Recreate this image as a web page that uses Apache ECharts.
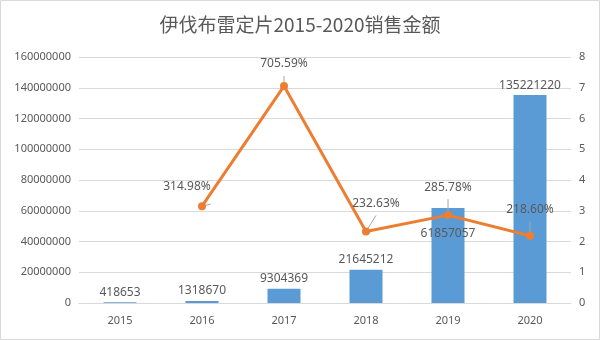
<!DOCTYPE html>
<html><head><meta charset="utf-8">
<script src="https://cdn.jsdelivr.net/npm/echarts@6/dist/echarts.min.js"></script>
<style>html,body{margin:0;padding:0;background:#fff}#c{width:600px;height:340px}</style>
</head><body><div id="c"></div>
<script>
var years = ['2015','2016','2017','2018','2019','2020'];
var sales = [418653, 1318670, 9304369, 21645212, 61857057, 135221220];
var growth = [null, 3.1498, 7.0559, 2.3263, 2.8578, 2.1860];
var growthLabels = ['', '314.98%', '705.59%', '232.63%', '285.78%', '218.60%'];
var leftTicks = [0, 160000000, 20000000];
var rightTicks = [0, 8, 1];

var txt = '#595959';
var font = 'Noto Sans, sans-serif';
var lblOffsets = [[0,0],[-15,0],[0,-2],[10,-8],[0,-8],[0,-6]];

var chart = echarts.init(document.getElementById('c'));
chart.setOption({
  animation: false,
  title: {text: '伊伐布雷定片2015-2020销售金额', left: 'center', top: 10,
    textStyle: {color: txt, fontSize: 19, fontWeight: 'normal', fontFamily: 'Noto Sans CJK SC'}},
  graphic: [{type: 'rect', shape: {x: 0.5, y: 0.5, width: 599, height: 339}, style: {fill: 'none', stroke: '#d9d9d9', lineWidth: 1}}],
  grid: {left: 79, right: 29, top: 57, bottom: 37},
  xAxis: {type: 'category', data: years,
    axisLine: {lineStyle: {color: '#d9d9d9'}}, axisTick: {show: false},
    axisLabel: {color: txt, fontSize: 11, fontFamily: font, margin: 12}},
  yAxis: [
    {type: 'value', min: leftTicks[0], max: leftTicks[1], interval: leftTicks[2],
     axisLine: {show: false}, axisTick: {show: false},
     splitLine: {lineStyle: {color: '#d9d9d9'}},
     axisLabel: {color: txt, fontSize: 11, fontFamily: font, margin: 8,
       formatter: function(v){ return String(v); }}},
    {type: 'value', min: rightTicks[0], max: rightTicks[1], interval: rightTicks[2],
     axisLine: {show: false}, axisTick: {show: false}, splitLine: {show: false},
     axisLabel: {color: txt, fontSize: 11, fontFamily: font, margin: 8}}
  ],
  series: [
    {type: 'bar', data: sales.map(function(v, i){
        var d = {value: v};
        if (i === 4) d.label = {position: 'insideTop', offset: [0, 16]};
        return d;
      }),
     barWidth: 33, itemStyle: {color: '#5B9BD5'},
     label: {show: true, position: 'top', color: txt, fontSize: 12, fontFamily: font, distance: 4}},
    {type: 'line', yAxisIndex: 1, data: growth.map(function(v, i){
        return {value: v, label: {offset: lblOffsets[i]}};
      }),
     connectNulls: false,
     lineStyle: {color: '#ED7D31', width: 3},
     itemStyle: {color: '#ED7D31'},
     symbol: 'circle', symbolSize: 8,
     label: {show: true, position: 'top', distance: 10, color: txt, fontSize: 12, fontFamily: font,
       formatter: function(p){ return growthLabels[p.dataIndex]; }},
     labelLine: {show: true, lineStyle: {color: '#a6a6a6', width: 1}}}
  ]
});
</script></body></html>
